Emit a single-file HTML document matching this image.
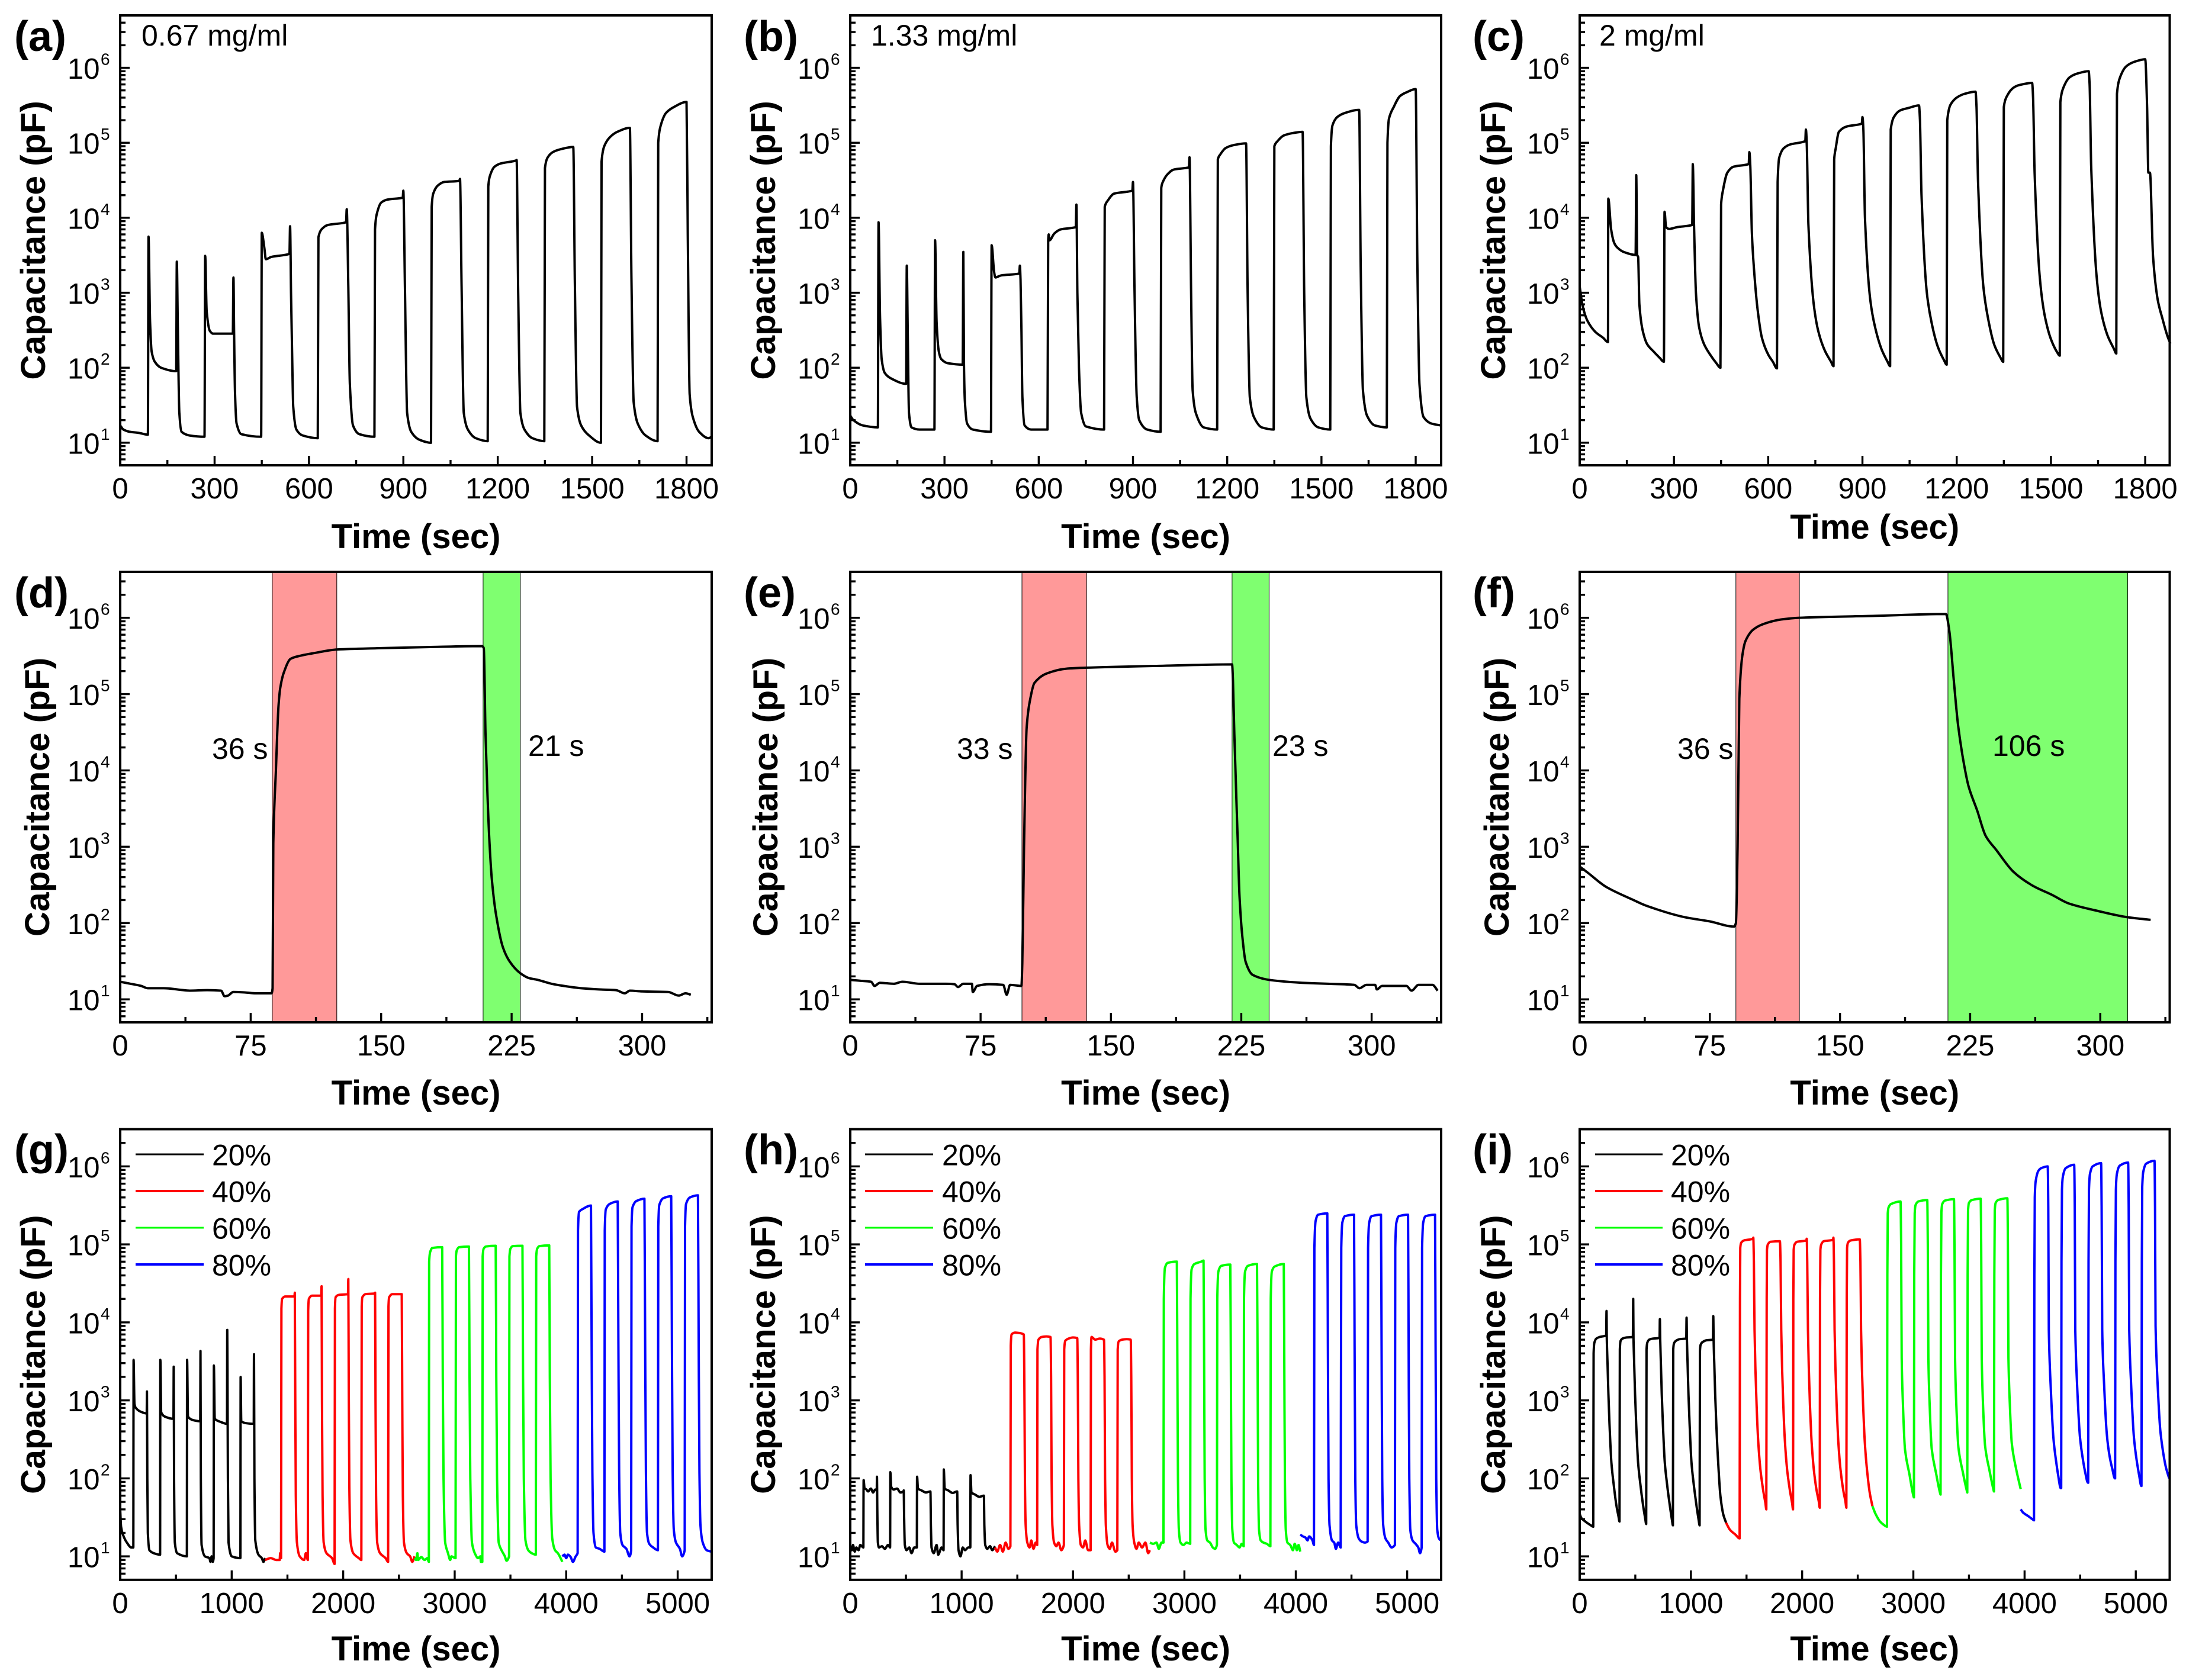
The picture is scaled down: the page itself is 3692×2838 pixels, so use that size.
<!DOCTYPE html>
<html lang="en">
<head>
<meta charset="utf-8">
<title>Capacitance response panels</title>
<style>
html,body{margin:0;padding:0;background:#fff;}
body{width:3692px;height:2838px;overflow:hidden;}
svg{display:block;}
text{font-family:"Liberation Sans",Arial,sans-serif;fill:#000;}
</style>
</head>
<body>
<svg id="figure" xmlns="http://www.w3.org/2000/svg" width="3692" height="2838" viewBox="0 0 3692 2838"></svg>
<script>
/* ---------- data: [time in s, capacitance in pF] ---------- */
const seriesA = [[0,17],[10,15],[30,14],[60,13.5],[88,12.8],[90,5600],[95,400],[100,165],[110,120],[130,100],[178,90],[180,2600],[183,400],[188,25],[195,14],[220,12.5],[268,12],
[270,3100],[275,560],[285,310],[295,285],[358,285],[360,1600],[362,285],[365,45],[370,18],[385,13],[448,12],
[450,6300],[458,4000],[463,2800],[480,3000],[538,3300],[540,7700],[543,1000],[547,110],[550,30],[560,15],[580,12.5],[628,11.5],
[630,5500],[640,7000],[660,8000],[718,8700],[720,13000],[725,1200],[730,60],[740,17],[760,13],[808,12],
[810,7000],[815,11000],[830,16000],[850,17500],[898,18500],[900,23000],[905,1200],[912,25],[925,14],[950,11],[988,10],
[990,14000],[995,21000],[1010,27000],[1030,30000],[1078,31000],[1080,33000],[1085,1200],[1092,25],[1105,15],[1130,11.5],[1168,10.5],
[1170,26000],[1175,36000],[1190,48000],[1210,53000],[1258,58000],[1260,59000],[1265,1000],[1272,25],[1285,15],[1310,11.5],[1348,10.5],
[1350,46000],[1358,63000],[1375,75000],[1400,82000],[1440,88000],[1445,1500],[1452,30],[1465,17],[1490,12.5],[1528,10],
[1530,56000],[1538,89000],[1555,117000],[1580,140000],[1620,158000],[1625,1500],[1632,35],[1645,18],[1670,12.5],[1708,10.5],
[1710,100000],[1718,170000],[1735,250000],[1760,300000],[1800,350000],[1804,6000],[1810,44],[1820,22],[1840,14],[1870,11.5],[1880,12]];

const seriesB = [[0,23],[10,20],[40,17],[88,16],[90,8700],[95,450],[100,130],[110,85],[130,72],[178,61],[180,2300],[183,300],[187,25],[195,16],[220,15],[268,15],
[270,5000],[275,400],[282,165],[290,130],[310,115],[358,110],[360,3500],[362,110],[365,35],[372,18],[390,15],[448,14],
[450,4300],[458,1900],[462,1600],[480,1700],[538,1800],[540,2300],[542,1500],[545,300],[548,40],[555,17],[575,15],[628,15],
[630,5000],[632,6000],[634,5000],[650,6200],[670,7000],[718,7500],[720,15000],[723,1000],[728,100],[735,25],[750,16.5],[808,15],
[810,14000],[820,17000],[840,21000],[898,23000],[900,30000],[905,1000],[912,40],[920,20],[945,15],[988,14],
[990,25000],[995,30000],[1010,38000],[1030,44000],[1078,47000],[1080,64000],[1085,1000],[1090,50],[1100,25],[1125,16],[1168,15],
[1170,60000],[1178,70000],[1195,85000],[1220,93000],[1260,98000],[1265,1000],[1272,40],[1285,22],[1310,16],[1348,15],
[1350,90000],[1360,105000],[1380,125000],[1410,135000],[1440,140000],[1445,1000],[1452,40],[1465,21],[1490,16],[1528,15],
[1530,90000],[1535,170000],[1550,220000],[1575,250000],[1620,275000],[1625,2000],[1632,50],[1645,23],[1670,17],[1708,16],
[1710,100000],[1715,210000],[1730,300000],[1750,420000],[1770,470000],[1800,520000],[1805,3000],[1812,60],[1825,22],[1850,18],[1880,17]];

const seriesC = [[0,1200],[10,650],[25,420],[50,300],[75,250],[90,220],[91,18000],[100,7000],[110,4600],[120,4000],[140,3500],[178,3200],[180,37000],[183,3200],[186,3000],[190,700],[200,320],[215,205],[235,165],[255,135],[268,120],
[270,12000],[275,7500],[285,7100],[310,7500],[358,8000],[360,52000],[364,8000],[370,1000],[380,350],[395,210],[415,150],[435,115],[448,100],
[450,15000],[455,22000],[470,40000],[490,48000],[538,52000],[540,75000],[543,50000],[548,6300],[555,2000],[567,560],[580,250],[600,150],[615,120],[628,98],
[630,30000],[635,63000],[650,85000],[670,95000],[718,105000],[720,150000],[723,90000],[728,8000],[745,700],[760,300],[780,170],[800,120],[808,105],
[810,60000],[815,85000],[825,140000],[850,165000],[898,180000],[900,220000],[903,150000],[908,10000],[925,800],[940,350],[960,180],[980,120],[988,105],
[990,150000],[1000,220000],[1020,270000],[1045,290000],[1080,315000],[1083,200000],[1088,20000],[1105,1000],[1120,400],[1140,190],[1160,125],[1168,110],
[1170,200000],[1180,320000],[1200,400000],[1225,450000],[1260,480000],[1263,300000],[1268,30000],[1285,1200],[1300,450],[1320,200],[1340,135],[1348,120],
[1350,300000],[1360,420000],[1380,540000],[1400,590000],[1440,630000],[1443,400000],[1448,40000],[1465,1500],[1480,500],[1500,240],[1520,160],[1528,145],
[1530,350000],[1540,550000],[1560,750000],[1585,840000],[1620,900000],[1623,600000],[1628,50000],[1645,1700],[1660,550],[1680,270],[1700,180],[1708,155],
[1710,450000],[1720,750000],[1740,1050000],[1765,1200000],[1800,1300000],[1806,300000],[1810,40000],[1815,40000],[1825,3000],[1840,800],[1855,450],[1870,270],[1880,210]];

const seriesD = [[0,17],[6,16],[12,15],[16,14],[25,14],[35,13.3],[40,13],[50,13.2],[58,13],[60,11],[62,11.2],[65,12.5],[72,12.3],[78,12],[87,12],[87.6,14],[88,1100],[89.5,10000],[91,70000],[92,120000],[94,190000],[98,290000],[104,320000],[110,340000],[125,385000],[150,400000],[180,415000],[208,425000],[209,400000],[210,30000],[211,5700],[212.3,1100],[213.6,380],[216,130],[220,48],[224,31],[230,22],[235,19],[240,18],[248,16],[255,15],[265,14],[275,13.5],[285,13.2],[290,12],[293,13],[300,12.7],[315,12.5],[321,11.2],[325,12],[328,11.5]];

const seriesE = [[0,18],[6,17.5],[12,17],[14,15],[17,16.5],[25,16],[30,17],[40,16],[55,16],[60,15.8],[62,14.5],[65,16],[70,16],[70.5,12.5],[73,15],[80,15.8],[88,15.5],[90,11.5],[92,15.5],[98.5,15],[99,30],[100,1000],[101.5,36000],[103.6,87000],[106,140000],[113,186000],[124,215000],[136,222000],[180,235000],[219.7,245000],[220.2,150000],[221,30000],[223,1100],[224,220],[225.6,67],[227.5,31],[231.5,21],[241,18],[260,16.5],[275,16],[290,15.5],[293,14],[297,15.5],[302,15.5],[303,13.5],[306,15],[320,15],[323,13],[327,15.5],[335,15.5],[338,13]];

const seriesF = [[0,550],[5,450],[15,300],[30,205],[38,170],[60,120],[75,105],[89,90],[90,100],[91,1000],[92,87000],[93.7,316000],[95.6,500000],[100,700000],[106,830000],[116,950000],[126.6,1000000],[170,1060000],[211,1120000],[213,670000],[215.5,158000],[218,40000],[221,13800],[224,6300],[229,3000],[234,1380],[240,910],[250,468],[261,309],[272,235],[282,180],[298,145],[315,120],[329,110]];

const seriesG20 = [[0,40],[8,24],[25,19],[60,15],[100,13],[118,13],[120,3300],[128,900],[140,800],[180,720],[238,680],[240,1300],[243,100],[248,20],[262,12],[300,11],[358,10.5],[360,3300],[368,700],[400,620],[478,580],[480,2700],[483,100],[490,15],[510,11],[598,10],[600,3300],[608,620],[650,560],[718,540],[720,4300],[723,100],[730,14],[760,10],[800,9.5],[810,8.5],[820,10],[830,8.5],[838,9.5],[840,2800],[848,580],[900,530],[958,500],[960,8000],[963,1500],[966,100],[972,15],[1000,10],[1078,9.5],[1080,2000],[1086,540],[1130,510],[1198,500],[1200,3900],[1204,100],[1212,16],[1240,10.5],[1270,9.5],[1285,8.5],[1300,9.5]];

const seriesG40 = [[1300,9],[1350,9.5],[1400,9],[1430,9],[1435,11],[1443,9.5],[1446,15000],[1452,20000],[1480,21500],[1563,21500],[1566,24000],[1570,1000],[1575,60],[1585,15],[1610,10],[1650,9],[1665,11],[1683,9],
[1686,14000],[1692,20000],[1720,22000],[1803,22000],[1806,29000],[1810,1000],[1815,60],[1825,15],[1850,11],[1900,9.5],[1923,8],
[1926,15000],[1932,21000],[1960,22500],[2043,23000],[2046,36000],[2050,1500],[2055,80],[2065,16],[2090,11],[2140,9.5],[2163,9],
[2166,16000],[2172,21000],[2200,23000],[2283,23500],[2286,24000],[2290,1000],[2295,60],[2305,15],[2330,11],[2380,9.5],[2403,8.5],
[2406,16000],[2412,21000],[2440,23000],[2525,23000],[2530,1000],[2535,60],[2545,15],[2570,11],[2600,10],[2620,8.5],[2640,10]];

const seriesG60 = [[2640,9.5],[2655,9],[2665,11],[2672,9],[2700,9.8],[2730,9],[2755,9.5],[2768,8.5],[2771,60000],[2780,80000],[2800,90000],[2888,92000],[2893,2000],[2900,100],[2915,15],[2940,11],[2960,9],[2970,10],[3008,9.5],
[3011,70000],[3020,85000],[3040,92000],[3128,94000],[3133,2000],[3140,100],[3155,15],[3180,11],[3210,9.5],[3230,10],[3235,8.5],[3248,8.5],
[3251,70000],[3260,88000],[3280,94000],[3368,96000],[3373,2000],[3380,100],[3395,15],[3420,12],[3450,10],[3465,8.8],[3488,10],
[3491,70000],[3500,88000],[3520,95000],[3608,96000],[3613,2000],[3620,100],[3635,16],[3660,12],[3690,11],[3728,10.5],
[3731,70000],[3740,88000],[3760,95000],[3848,97000],[3853,2000],[3860,100],[3875,17],[3900,12],[3925,11],[3950,9.5],[3965,8.5]];

const seriesG80 = [[3965,10],[3985,10.5],[4000,9.5],[4015,10.5],[4040,9.8],[4060,8.5],[4085,10],[4103,11],[4106,150000],[4115,260000],[4150,285000],[4222,315000],[4228,6000],[4235,120],[4245,20],[4265,13],[4300,12.5],[4343,11.5],
[4346,150000],[4355,280000],[4390,330000],[4462,355000],[4468,6000],[4475,120],[4485,20],[4505,14],[4540,12.5],[4568,10],[4583,12],
[4586,170000],[4595,300000],[4630,360000],[4702,385000],[4708,6000],[4715,120],[4725,20],[4745,14.5],[4780,13],[4823,12],
[4826,170000],[4835,320000],[4870,390000],[4942,415000],[4948,6000],[4955,120],[4965,22],[4985,15],[5020,12.5],[5040,10],[5063,12],
[5066,170000],[5075,330000],[5110,400000],[5182,425000],[5188,6000],[5195,120],[5205,24],[5225,15],[5260,12],[5300,11.5]];

const seriesH20 = [[0,13],[15,12],[25,14],[40,11.5],[55,13],[75,12],[90,14],[118,13],[120,95],[128,75],[145,72],[160,68],[185,74],[205,66],[225,72],[238,70],[240,105],[243,40],[248,15],[258,13],[285,13.5],[310,12.5],[340,14],[358,13],[360,120],[368,78],[390,72],[420,74],[450,66],[478,68],[480,70],[484,30],[490,14],[505,12],[530,13],[550,11],[575,13],[598,13],[600,105],[608,74],[640,70],[680,66],[718,68],[720,68],[724,25],[730,13],[750,11],[775,14],[790,10.5],[820,13],[838,12],[840,130],[848,74],[880,70],[920,65],[958,68],[960,68],[964,25],[972,12],[990,10],[1010,13],[1030,12],[1060,13],[1078,13],[1080,110],[1088,66],[1120,62],[1160,58],[1198,60],[1200,60],[1204,25],[1212,14],[1230,12.5],[1255,13.5],[1275,12],[1300,13.5]];

const seriesH40 = [[1300,13],[1320,11.5],[1345,14],[1370,11.5],[1395,15],[1420,12.5],[1438,13.5],[1441,5000],[1448,7000],[1480,7400],[1520,7300],[1558,7000],[1563,2000],[1568,100],[1575,25],[1590,15],[1610,13],[1625,16],[1645,12.5],[1665,15],[1678,14],
[1681,4500],[1690,6000],[1720,6500],[1760,6600],[1798,6500],[1803,2000],[1808,100],[1815,25],[1830,15],[1850,13.5],[1870,15],[1895,12],[1918,14],
[1921,4500],[1930,5800],[1960,6200],[2000,6400],[2038,6300],[2043,2000],[2048,100],[2055,25],[2070,14],[2090,13],[2110,16],[2135,12],[2158,12],
[2161,4500],[2166,6500],[2200,6000],[2240,6200],[2278,6000],[2283,2000],[2288,100],[2295,25],[2310,14],[2330,12.5],[2350,15],[2380,11.5],[2398,12],
[2401,4500],[2410,5700],[2440,6000],[2480,6100],[2518,6000],[2523,2000],[2528,100],[2535,25],[2550,15],[2570,12.5],[2590,15],[2620,13],[2650,15],[2675,11],[2690,12]];

const seriesH60 = [[2690,15],[2720,14.5],[2750,15],[2770,12.5],[2795,15],[2812,15],[2815,20000],[2825,50000],[2850,58000],[2932,60000],[2937,3000],[2942,100],[2950,22],[2965,15],[2990,14],[3020,15],[3052,14.5],
[3055,20000],[3065,48000],[3090,56000],[3150,60000],[3172,62000],[3177,3000],[3182,100],[3190,22],[3205,16],[3230,15],[3255,13],[3275,12.5],[3292,14],
[3295,20000],[3305,45000],[3330,53000],[3412,55000],[3417,3000],[3422,100],[3430,22],[3445,15],[3470,14],[3495,13],[3515,14.5],[3532,13.5],
[3535,20000],[3545,45000],[3570,53000],[3652,56000],[3657,3000],[3662,100],[3670,22],[3685,16],[3710,15],[3740,14.5],[3772,13.5],
[3775,20000],[3785,45000],[3810,52000],[3892,56000],[3897,3000],[3902,100],[3910,22],[3925,15],[3950,14],[3975,12],[3990,14.5],[4010,12],[4025,14],[4040,11.5]];

const seriesH80 = [[4040,19],[4065,18],[4085,17.5],[4105,16],[4120,18],[4150,16],[4163,14],[4167,90000],[4178,200000],[4200,240000],[4283,250000],[4288,5000],[4294,100],[4303,25],[4325,16],[4345,15],[4360,12.5],[4380,15],[4403,13],
[4408,90000],[4418,190000],[4440,230000],[4523,240000],[4528,5000],[4534,100],[4543,25],[4565,17],[4590,15.5],[4620,15],[4645,15.5],
[4649,90000],[4659,190000],[4680,230000],[4765,240000],[4770,5000],[4776,100],[4785,25],[4805,17],[4830,15],[4860,13],[4890,14],
[4893,90000],[4903,190000],[4925,230000],[5008,240000],[5013,5000],[5019,100],[5028,22],[5048,16],[5075,14.5],[5100,13],[5115,11],[5130,13],
[5134,90000],[5144,190000],[5165,230000],[5250,240000],[5255,5000],[5261,100],[5270,22],[5285,17],[5300,16]];

const seriesI20 = [[0,35],[15,31],[50,28],[100,25],[122,24],[125,4000],[132,5500],[150,6200],[180,6500],[238,6800],[241,14000],[244,6000],[250,3000],[258,1200],[268,500],[285,160],[305,85],[330,45],[350,32],[358,28],
[361,4500],[368,5800],[385,6200],[420,6400],[478,6500],[481,20000],[484,6000],[490,3000],[498,1200],[508,500],[525,160],[545,85],[570,45],[590,30],[598,26],
[601,4500],[608,5500],[625,6000],[660,6200],[718,6300],[721,11000],[724,6000],[730,3000],[738,1200],[748,500],[765,160],[785,85],[810,45],[830,29],[838,25],
[841,4500],[848,5400],[865,5800],[900,6100],[958,6200],[961,11500],[964,6000],[970,3000],[978,1200],[988,500],[1005,160],[1025,85],[1050,45],[1070,29],[1078,25],
[1081,4300],[1088,5200],[1105,5600],[1140,5900],[1198,6000],[1201,12000],[1204,6000],[1210,3000],[1218,1200],[1228,500],[1245,160],[1265,60],[1290,35],[1316,27]];

const seriesI40 = [[1316,27],[1350,22],[1400,19],[1438,17],[1441,20000],[1444,90000],[1452,105000],[1475,112000],[1558,118000],[1561,122000],[1566,60000],[1572,8000],[1580,2500],[1590,900],[1605,300],[1625,130],[1650,70],[1670,48],[1678,40],
[1681,20000],[1684,85000],[1692,100000],[1715,108000],[1800,110000],[1806,60000],[1812,8000],[1820,2500],[1830,900],[1845,300],[1865,130],[1890,70],[1910,48],[1918,40],
[1921,20000],[1924,85000],[1932,100000],[1955,108000],[2038,112000],[2041,118000],[2046,60000],[2052,8000],[2060,2500],[2070,900],[2085,300],[2105,130],[2130,70],[2150,50],[2158,42],
[2161,20000],[2164,85000],[2172,100000],[2195,110000],[2278,114000],[2281,122000],[2286,60000],[2292,8000],[2300,2500],[2310,900],[2325,300],[2345,130],[2370,70],[2390,50],[2398,42],
[2401,20000],[2404,90000],[2412,105000],[2435,112000],[2518,116000],[2524,60000],[2530,8000],[2538,2500],[2548,900],[2563,300],[2583,130],[2608,65],[2632,44]];

const seriesI60 = [[2632,44],[2660,35],[2700,28],[2740,25],[2763,24],[2766,40000],[2770,250000],[2778,300000],[2800,330000],[2885,355000],[2890,100000],[2895,3500],[2905,1000],[2925,235],[2965,112],[3000,60],[3005,57],
[3008,40000],[3012,250000],[3020,320000],[3045,355000],[3125,370000],[3130,100000],[3135,3500],[3145,1000],[3165,240],[3205,115],[3240,65],[3245,62],
[3248,40000],[3252,260000],[3260,330000],[3285,365000],[3365,380000],[3370,100000],[3375,3500],[3385,1000],[3405,250],[3445,120],[3480,70],[3485,66],
[3488,40000],[3492,270000],[3500,340000],[3525,370000],[3605,385000],[3610,100000],[3615,3500],[3625,1000],[3645,260],[3685,125],[3720,72],[3725,68],
[3728,40000],[3732,270000],[3740,340000],[3765,372000],[3845,390000],[3850,100000],[3855,3500],[3865,1100],[3885,280],[3925,130],[3965,73]];

const seriesI80 = [[3965,40],[3990,36],[4030,33],[4070,30],[4085,29],[4088,40000],[4092,400000],[4100,650000],[4125,880000],[4150,950000],[4208,1000000],[4213,300000],[4218,8000],[4235,1500],[4260,320],[4285,160],[4302,110],[4325,75],[4329,75],
[4332,60000],[4336,500000],[4345,750000],[4370,950000],[4446,1050000],[4451,300000],[4456,8000],[4473,1500],[4498,340],[4523,180],[4545,120],[4570,88],[4572,88],
[4575,60000],[4579,500000],[4588,800000],[4612,1000000],[4688,1100000],[4693,300000],[4698,8000],[4715,1600],[4740,360],[4765,190],[4790,130],[4812,100],[4814,100],
[4817,60000],[4821,500000],[4830,800000],[4855,1020000],[4931,1120000],[4936,300000],[4941,8000],[4958,1600],[4983,340],[5008,170],[5030,110],[5050,80],[5051,80],
[5054,60000],[5058,550000],[5067,850000],[5092,1080000],[5168,1180000],[5173,300000],[5178,9000],[5195,1800],[5220,420],[5245,220],[5270,140],[5300,100]];

/* ---------- axis tick values ---------- */
const ticksCycle = [0,300,600,900,1200,1500,1800];
const ticksResponse = [0,75,150,225,300];
const ticksHumidity = [0,1000,2000,3000,4000,5000];
const decadeExponents = [1,2,3,4,5,6];
const legendLabels = ['20%','40%','60%','80%'];
const legendColors = ['#000000','#ff0000','#00ff00','#0000ff'];

/* highlight windows in seconds */
const bandsD = [[87.4,124.5],[208.6,230]];
const bandsE = [[98.8,136],[219.7,241]];
const bandsF = [[90,126.6],[212.2,315.8]];

/* ---------- layout ---------- */
const panels = [
 {id:'a',L:203,R:1202,T:26,B:786,xMax:1880,yMax:5e6,ticks:ticksCycle,minor:150,yBase:76,xBase:926,series:[[seriesA,'#000000']],note:['0.67 mg/ml',239,77],labelX:24,labelY:86},
 {id:'b',L:1436,R:2434,T:26,B:786,xMax:1881,yMax:5e6,ticks:ticksCycle,minor:150,yBase:1309,xBase:926,series:[[seriesB,'#000000']],note:['1.33 mg/ml',1471,77],labelX:1256,labelY:86},
 {id:'c',L:2668,R:3664.5,T:26,B:786,xMax:1878,yMax:5e6,ticks:ticksCycle,minor:150,yBase:2542,xBase:910,series:[[seriesC,'#000000']],note:['2 mg/ml',2701,77],labelX:2487,labelY:86},
 {id:'d',L:203,R:1202,T:966,B:1727,xMax:340,yMax:4e6,ticks:ticksResponse,minor:37.5,yBase:83,xBase:1866,series:[[seriesD,'#000000']],bands:bandsD,texts:[['36 s',358,1282],['21 s',892,1277]],labelX:24,labelY:1026},
 {id:'e',L:1436,R:2434,T:966,B:1727,xMax:340,yMax:4e6,ticks:ticksResponse,minor:37.5,yBase:1313,xBase:1866,series:[[seriesE,'#000000']],bands:bandsE,texts:[['33 s',1616,1282],['23 s',2149,1277]],labelX:1256,labelY:1026},
 {id:'f',L:2668,R:3664.5,T:966,B:1727,xMax:340,yMax:4e6,ticks:ticksResponse,minor:37.5,yBase:2548,xBase:1866,series:[[seriesF,'#000000']],bands:bandsF,texts:[['36 s',2833,1282],['106 s',3365,1277]],labelX:2487,labelY:1026},
 {id:'g',L:203,R:1202,T:1907.5,B:2668.8,xMax:5305,yMax:3e6,ticks:ticksHumidity,minor:500,yBase:76,xBase:2805,series:[[seriesG20,'#000000'],[seriesG40,'#ff0000'],[seriesG60,'#00ff00'],[seriesG80,'#0000ff']],legend:[229,344,358],labelX:24,labelY:1967},
 {id:'h',L:1436,R:2434,T:1907.5,B:2668.8,xMax:5305,yMax:3e6,ticks:ticksHumidity,minor:500,yBase:1309,xBase:2805,series:[[seriesH20,'#000000'],[seriesH40,'#ff0000'],[seriesH60,'#00ff00'],[seriesH80,'#0000ff']],legend:[1461,1576,1591],labelX:1256,labelY:1967},
 {id:'i',L:2668,R:3664.5,T:1907.5,B:2668.8,xMax:5305,yMax:3e6,ticks:ticksHumidity,minor:500,yBase:2542,xBase:2805,series:[[seriesI20,'#000000'],[seriesI40,'#ff0000'],[seriesI60,'#00ff00'],[seriesI80,'#0000ff']],legend:[2694,2808,2822],labelX:2487,labelY:1967}
];
const legendRows = [1950,2012,2074,2136];

const NS = 'http://www.w3.org/2000/svg';
const root = document.getElementById('figure');
function make(tag, parent, attrs, text) {
  const n = document.createElementNS(NS, tag);
  for (const k in attrs) n.setAttribute(k, attrs[k]);
  if (text !== undefined) n.textContent = text;
  parent.appendChild(n);
  return n;
}

/* smooth path through the plotted points, without overshoot */
function curvePath(pts) {
  const n = pts.length;
  const slope = [];
  for (let i = 0; i < n - 1; i++) {
    const dx = pts[i + 1][0] - pts[i][0];
    slope.push(dx > 0 ? (pts[i + 1][1] - pts[i][1]) / dx : 0);
  }
  const tan = [];
  for (let i = 0; i < n; i++) {
    if (i === 0) { tan.push(slope[0]); continue; }
    if (i === n - 1) { tan.push(slope[n - 2]); continue; }
    const a = slope[i - 1], b = slope[i];
    tan.push(a * b <= 0 ? 0 : 2 * a * b / (a + b));
  }
  let d = 'M' + pts[0][0].toFixed(1) + ' ' + pts[0][1].toFixed(1);
  for (let i = 0; i < n - 1; i++) {
    const h = (pts[i + 1][0] - pts[i][0]) / 3;
    d += 'C' + (pts[i][0] + h).toFixed(1) + ' ' + (pts[i][1] + tan[i] * h).toFixed(1) + ' ' +
      (pts[i + 1][0] - h).toFixed(1) + ' ' + (pts[i + 1][1] - tan[i + 1] * h).toFixed(1) + ' ' +
      pts[i + 1][0].toFixed(1) + ' ' + pts[i + 1][1].toFixed(1);
  }
  return d;
}

panels.forEach(function (p) {
  const yMin = 5;
  const xScale = function (t) { return p.L + (t / p.xMax) * (p.R - p.L); };
  const yScale = function (c) {
    return p.B - (Math.log10(c) - Math.log10(yMin)) / (Math.log10(p.yMax) - Math.log10(yMin)) * (p.B - p.T);
  };

  const g = make('g', root, {});
  
  

  /* highlight bands */
  (p.bands || []).forEach(function (b, i) {
    const band = make('rect', g, {x: xScale(b[0]), y: p.T, width: xScale(b[1]) - xScale(b[0]), height: p.B - p.T,
      fill: i === 0 ? '#ff9999' : '#7fff70', stroke: '#000', 'stroke-width': 1});
    
    
  });

  /* series */
  p.series.forEach(function (s, i) {
    const pts = s[0].map(function (pt) { return [xScale(pt[0]), yScale(pt[1])]; });
    const line = make('path', g, {d: curvePath(pts), fill: 'none', stroke: s[1], 'stroke-width': 4, 'stroke-linejoin': 'round', 'stroke-linecap': 'butt'});
    
    
  });

  /* frame */
  const frame = make('rect', g, {x: p.L, y: p.T, width: p.R - p.L, height: p.B - p.T, fill: 'none', stroke: '#000', 'stroke-width': 4});
  
  

  /* y ticks */
  for (let e = 0; e <= 6; e++) {
    for (let m = 1; m <= 9; m++) {
      const v = m * Math.pow(10, e);
      if (v < yMin || v > p.yMax) continue;
      const y = yScale(v);
      const yt = make('line', g, {x1: p.L, x2: p.L + (m === 1 ? 16 : 9), y1: y, y2: y, stroke: '#000', 'stroke-width': 3.4});
      
      
    }
  }
  decadeExponents.forEach(function (e) {
    const y = yScale(Math.pow(10, e));
    const base = make('text', g, {x: p.L - 89, y: y + 18.5, 'font-size': 49}, '10');
    
    
    const sup = make('text', g, {x: p.L - 33, y: y - 5, 'font-size': 28}, String(e));
    
    
  });

  /* x ticks */
  for (let t = 0; t <= p.xMax; t += p.minor) {
    const isMajor = p.ticks.indexOf(t) >= 0;
    const x = xScale(t);
    const xt = make('line', g, {x1: x, x2: x, y1: p.B, y2: p.B - (isMajor ? 16 : 9), stroke: '#000', 'stroke-width': 3.4});
    
    
  }
  p.ticks.forEach(function (t) {
    const xl = make('text', g, {x: xScale(t), y: p.B + 56, 'font-size': 49, 'text-anchor': 'middle'}, String(t));
    
    
  });

  /* axis titles */
  const xTitle = make('text', g, {x: (p.L + p.R) / 2, y: p.xBase, 'font-size': 58, 'font-weight': 'bold', 'text-anchor': 'middle'}, 'Time (sec)');
  
  
  const cy = (p.T + p.B) / 2;
  const yTitle = make('text', g, {x: p.yBase, y: cy, 'font-size': 58.5, 'font-weight': 'bold', 'text-anchor': 'middle',
    transform: 'rotate(-90 ' + p.yBase + ' ' + cy + ')'}, 'Capacitance (pF)');
  
  

  /* panel letter */
  const letter = make('text', g, {x: p.labelX, y: p.labelY, 'font-size': 72, 'font-weight': 'bold'}, '(' + p.id + ')');
  
  

  /* concentration note */
  if (p.note) {
    const note = make('text', g, {x: p.note[1], y: p.note[2], 'font-size': 50}, p.note[0]);
    
    
  }

  /* time annotations */
  (p.texts || []).forEach(function (a) {
    const tx = make('text', g, {x: a[1], y: a[2], 'font-size': 50}, a[0]);
    
    
  });

  /* legend */
  if (p.legend) {
    legendLabels.forEach(function (lab, i) {
      const sw = make('line', g, {x1: p.legend[0], x2: p.legend[1], y1: legendRows[i], y2: legendRows[i], stroke: legendColors[i], 'stroke-width': (i % 2) ? 4 : 3});
      
      
      const lt = make('text', g, {x: p.legend[2], y: legendRows[i] + 18.5, 'font-size': 50}, lab);
      
      
    });
  }
});
</script>
</body>
</html>
